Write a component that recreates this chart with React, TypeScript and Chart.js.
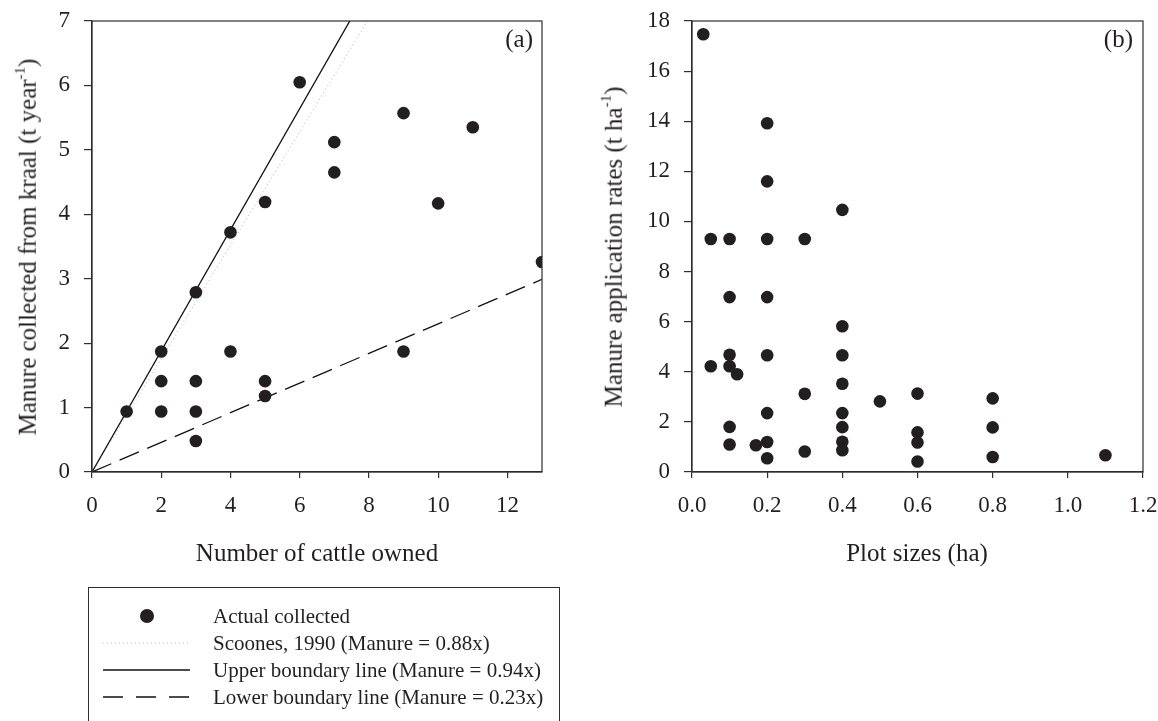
import React, { useEffect, useRef } from "react";
import { Chart, registerables } from "chart.js";

Chart.register(...registerables);

// ---- Panel (a): cattle owned vs manure collected ----
const cattleOwned = [1, 2, 2, 2, 3, 3, 3, 3, 4, 4, 5, 5, 5, 6, 7, 7, 9, 9, 10, 11, 13];
const manureCollected = [0.94, 1.87, 1.41, 0.94, 2.79, 1.41, 0.94, 0.48, 3.72, 1.87, 4.19, 1.41, 1.18, 6.05, 5.12, 4.65, 5.57, 1.87, 4.17, 5.35, 3.26];

// reference lines (end points of Manure = k·x over the axis range 0–13)
const lineX = [0, 13];
const scoonesY = [0, 11.44]; // 0.88x
const upperY = [0, 12.22]; // 0.94x
const lowerY = [0, 2.99]; // 0.23x

// ---- Panel (b): plot size vs application rate ----
const plotSize = [
  0.03, 0.05, 0.05, 0.1, 0.1, 0.1, 0.1, 0.1, 0.1, 0.12, 0.17,
  0.2, 0.2, 0.2, 0.2, 0.2, 0.2, 0.2, 0.2, 0.3, 0.3, 0.3,
  0.4, 0.4, 0.4, 0.4, 0.4, 0.4, 0.4, 0.4, 0.5, 0.6, 0.6, 0.6, 0.6,
  0.8, 0.8, 0.8, 1.1,
];
const applicationRate = [
  17.47, 9.3, 4.22, 9.3, 6.98, 4.68, 4.22, 1.8, 1.1, 3.9, 1.07,
  13.92, 11.6, 9.3, 6.98, 4.66, 2.35, 1.2, 0.55, 9.3, 3.12, 0.82,
  10.46, 5.82, 4.66, 3.52, 2.35, 1.79, 1.21, 0.87, 2.82, 3.13, 1.58, 1.18, 0.42,
  2.94, 1.78, 0.6, 0.67,
];

const legendLabels = [
  "Actual collected",
  "Scoones, 1990 (Manure = 0.88x)",
  "Upper boundary line (Manure = 0.94x)",
  "Lower boundary line (Manure = 0.23x)",
];

const FONT = "'Liberation Serif', 'Times New Roman', serif";
const INK = "#231f20";
const AXIS = "#2e2e2e";
const DOTTED = "#c4c4c4";

const framePlugin = {
  id: "frame",
  afterDatasetsDraw(chart: any) {
    const { ctx, chartArea } = chart;
    const { left, top, right, bottom } = chartArea;
    ctx.save();
    ctx.strokeStyle = AXIS;
    ctx.lineWidth = 1.2;
    ctx.strokeRect(left, top, right - left, bottom - top);
    ctx.restore();
  },
};

function makeScale(
  min: number,
  max: number,
  step: number,
  tickLength: number,
  fit: (s: any) => void,
  fmt: (v: any) => string
) {
  return {
    type: "linear",
    min,
    max,
    ticks: {
      stepSize: step,
      includeBounds: false,
      autoSkip: false,
      maxRotation: 0,
      minRotation: 0,
      padding: 14,
      color: INK,
      font: { family: FONT, size: 23 },
      callback: fmt,
    },
    grid: {
      drawOnChartArea: false,
      drawTicks: true,
      tickLength,
      color: AXIS,
      lineWidth: 1.2,
    },
    border: { display: true, color: AXIS, width: 1.2 },
    afterFit: fit,
  };
}

const fitX = (s: any) => {
  s.height = 128;
  s.paddingLeft = 0;
  s.paddingRight = 0;
};
const fitY = (w: number) => (s: any) => {
  s.width = w;
  s.paddingTop = 0;
  s.paddingBottom = 0;
};

const toPoints = (xs: number[], ys: number[]) => xs.map((x, i) => ({ x, y: ys[i] }));

const pointStyle = {
  pointRadius: 6.3,
  pointHoverRadius: 6.3,
  pointBackgroundColor: INK,
  pointBorderWidth: 0,
  backgroundColor: INK,
  borderColor: INK,
};

function lineSet(ys: number[], color: string, width: number, dash: number[]) {
  return {
    data: toPoints(lineX, ys),
    showLine: true,
    pointRadius: 0,
    pointHoverRadius: 0,
    borderColor: color,
    borderWidth: width,
    borderDash: dash,
    fill: false,
    tension: 0,
  };
}

export default function App() {
  const leftRef = useRef<HTMLCanvasElement | null>(null);
  const rightRef = useRef<HTMLCanvasElement | null>(null);

  useEffect(() => {
    const common = {
      responsive: false,
      animation: false,
      events: [],
      plugins: { legend: { display: false }, tooltip: { enabled: false } },
    };

    const left = new Chart(leftRef.current as HTMLCanvasElement, {
      type: "scatter",
      data: {
        datasets: [
          { data: toPoints(cattleOwned, manureCollected), ...pointStyle },
          lineSet(upperY, "#111", 1.3, []),
          lineSet(scoonesY, DOTTED, 1.2, [1, 3]),
          lineSet(lowerY, "#111", 1.3, [21, 9]),
        ],
      },
      options: {
        ...common,
        layout: { padding: { left: 0, top: 21, right: 38, bottom: 0 } },
        scales: {
          x: makeScale(0, 13, 2, 6, fitX, (v) => String(v)),
          y: makeScale(0, 7, 1, 8, fitY(92), (v) => String(v)),
        },
      } as any,
      plugins: [framePlugin],
    } as any);

    const right = new Chart(rightRef.current as HTMLCanvasElement, {
      type: "scatter",
      data: {
        datasets: [{ data: toPoints(plotSize, applicationRate), ...pointStyle }],
      },
      options: {
        ...common,
        layout: { padding: { left: 0, top: 21, right: 15, bottom: 0 } },
        scales: {
          x: makeScale(0, 1.2, 0.2, 6, fitX, (v) => Number(v).toFixed(1)),
          y: makeScale(0, 18, 2, 8, fitY(112), (v) => String(v)),
        },
      } as any,
      plugins: [framePlugin],
    } as any);

    return () => {
      left.destroy();
      right.destroy();
    };
  }, []);

  const text: React.CSSProperties = {
    position: "absolute",
    fontFamily: FONT,
    color: INK,
    whiteSpace: "nowrap",
    lineHeight: 1,
  };
  const sup: React.CSSProperties = { fontSize: "0.6em", verticalAlign: "0.7em" };

  const rowY = [616, 643, 670, 697];

  return (
    <div
      style={{
        position: "fixed",
        left: 0,
        top: 0,
        width: 1158,
        height: 721,
        overflow: "hidden",
        background: "#fff",
      }}
    >
      <canvas
        ref={leftRef}
        width={580}
        height={600}
        style={{ position: "absolute", left: 0, top: 0, width: 580, height: 600 }}
      />
      <canvas
        ref={rightRef}
        width={578}
        height={600}
        style={{ position: "absolute", left: 580, top: 0, width: 578, height: 600 }}
      />

      {/* axis titles */}
      <div
        style={{
          ...text,
          fontSize: 25,
          left: 26,
          top: 247,
          transform: "translate(-50%, -50%) rotate(-90deg)",
        }}
      >
        Manure collected from kraal (t year<span style={sup}>-1</span>)
      </div>
      <div
        style={{
          ...text,
          fontSize: 25,
          left: 612,
          top: 247,
          transform: "translate(-50%, -50%) rotate(-90deg)",
        }}
      >
        Manure application rates (t ha<span style={sup}>-1</span>)
      </div>
      <div style={{ ...text, fontSize: 25, left: 317, top: 552, transform: "translate(-50%, -50%)" }}>
        Number of cattle owned
      </div>
      <div style={{ ...text, fontSize: 25, left: 917, top: 552, transform: "translate(-50%, -50%)" }}>
        Plot sizes (ha)
      </div>

      {/* panel letters */}
      <div style={{ ...text, fontSize: 25, left: 533, top: 38, transform: "translate(-100%, -50%)" }}>(a)</div>
      <div style={{ ...text, fontSize: 25, left: 1133, top: 38, transform: "translate(-100%, -50%)" }}>(b)</div>

      {/* legend */}
      <div
        style={{
          position: "absolute",
          left: 88,
          top: 587,
          width: 472,
          height: 200,
          border: `1.5px solid ${AXIS}`,
          boxSizing: "border-box",
        }}
      />
      <svg
        width={1158}
        height={721}
        style={{ position: "absolute", left: 0, top: 0, pointerEvents: "none" }}
      >
        <circle cx={147} cy={rowY[0]} r={7} fill={INK} />
        <line x1={103} x2={190} y1={rowY[1]} y2={rowY[1]} stroke={DOTTED} strokeWidth={1.2} strokeDasharray="1 3" />
        <line x1={103} x2={190} y1={rowY[2]} y2={rowY[2]} stroke="#111" strokeWidth={1.3} />
        <line x1={103} x2={190} y1={rowY[3]} y2={rowY[3]} stroke="#111" strokeWidth={1.3} strokeDasharray="20 13" />
      </svg>
      {legendLabels.map((label, i) => (
        <div
          key={label}
          style={{ ...text, fontSize: 21, left: 213, top: rowY[i], transform: "translateY(-50%)" }}
        >
          {label}
        </div>
      ))}
    </div>
  );
}
